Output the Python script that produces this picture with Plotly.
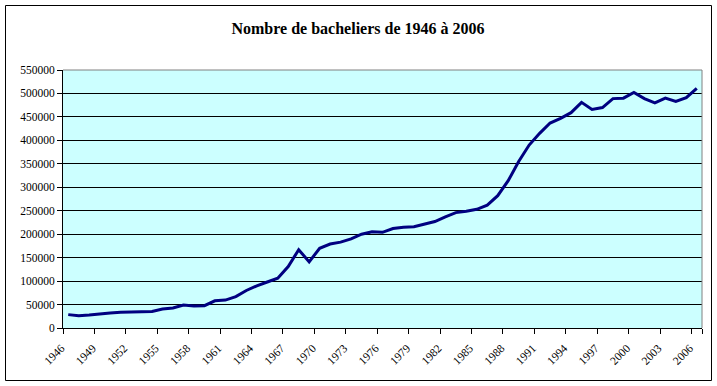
import plotly.graph_objects as go

years = [str(y) for y in range(1946, 2007)]
bacheliers = [
    28500, 26000, 27500, 30500, 32000, 33500, 34000, 34000, 35000, 40500,  # 1946-1955
    42500, 49000, 47000, 47500, 58000, 59500, 67000, 80000, 90000, 98000,  # 1956-1965
    106000, 131000, 167000, 141000, 170000, 179000, 183000, 190000, 200000, 205000,  # 1966-1975
    204000, 212000, 215000, 216000, 222000, 227000, 237000, 246000, 249000, 253000,  # 1976-1985
    262000, 282000, 314000, 355000, 390000, 415000, 437000, 447000, 459000, 481000,  # 1986-1995
    466000, 470000, 489000, 490000, 502000, 489000, 480000, 490000, 483000, 491000,  # 1996-2005
    511000,  # 2006
]
y_ticks = list(range(0, 550001, 50000))
x_tick_labels = years[::3]

title_text = "Nombre de bacheliers de 1946 à 2006"

FONT = "Liberation Serif, Times New Roman, serif"

fig = go.Figure()
fig.add_trace(go.Scatter(
    x=years, y=bacheliers, mode="lines",
    line=dict(color="#000080", width=3),
    hoverinfo="x+y", showlegend=False,
))

L, R, T, B = 63, 15, 70, 58
W, H = 717, 386
pw, ph = W - L - R, H - T - B

def px_x(px):
    return (px - L) / pw

def px_y(py):
    return (H - B - py) / ph

fig.update_layout(
    width=W, height=H,
    margin=dict(l=L, r=R, t=T, b=B, pad=0),
    paper_bgcolor="white",
    plot_bgcolor="#CCFFFF",
    font=dict(family=FONT, size=11.5, color="black"),
    title=dict(
        text=f"<b>{title_text}</b>",
        font=dict(family=FONT, size=16, color="black"),
        x=358 / W, xref="container", xanchor="center",
        y=1 - 28 / H, yref="container", yanchor="middle",
    ),
    xaxis=dict(
        type="category",
        categoryorder="array", categoryarray=years,
        range=[-0.5, len(years) - 0.5],
        tickson="boundaries",
        ticks="outside", ticklen=5, tickcolor="black", tickwidth=1,
        tickmode="array", tickvals=x_tick_labels, ticktext=x_tick_labels,
        tickangle=-45,
        ticklabelstandoff=8,
        ticklabelshift=-7,
        showline=True, linecolor="black", linewidth=1,
        showgrid=False, zeroline=False,
        fixedrange=True,
    ),
    yaxis=dict(
        range=[0, 550000],
        tickmode="array", tickvals=y_ticks,
        ticktext=[str(v) for v in y_ticks],
        ticks="outside", ticklen=5, tickcolor="black", tickwidth=1,
        showline=True, linecolor="black", linewidth=1,
        showgrid=True, gridcolor="black", gridwidth=1,
        zeroline=False,
        fixedrange=True,
    ),
    shapes=[
        # gray top and right edges of plot area
        dict(type="line", xref="paper", yref="paper", x0=0, x1=1, y0=1, y1=1,
             line=dict(color="#808080", width=1), layer="above"),
        dict(type="line", xref="paper", yref="paper", x0=1, x1=1, y0=0, y1=1,
             line=dict(color="#808080", width=1), layer="above"),
        # outer chart border
        dict(type="rect", xref="paper", yref="paper",
             x0=px_x(5.5), x1=px_x(711.5), y0=px_y(380.5), y1=px_y(5.5),
             line=dict(color="black", width=1), fillcolor="rgba(0,0,0,0)",
             layer="above"),
    ],
)

fig.write_html(
    "out.html",
    config={"displayModeBar": False},
    post_script="document.body.style.margin='0';document.body.style.padding='0';",
)
